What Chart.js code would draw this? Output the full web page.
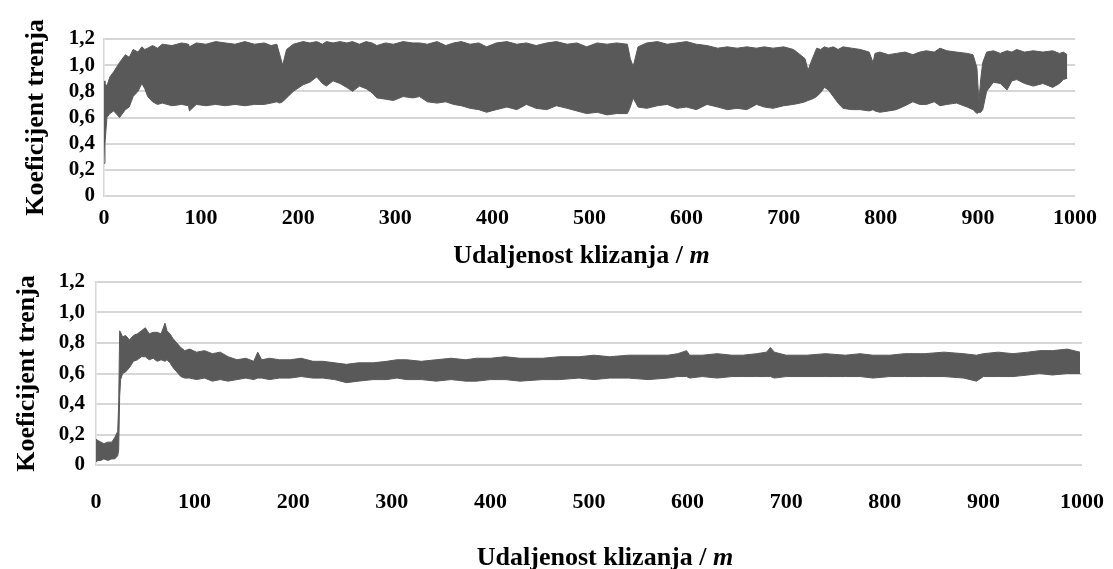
<!DOCTYPE html>
<html>
<head>
<meta charset="utf-8">
<script src="https://cdn.jsdelivr.net/npm/chart.js@4.4.1/dist/chart.umd.min.js"></script>
<style>
  body { margin: 0; background: #fff; }
  canvas { position: absolute; left: 0; }
  #topChart { top: 0; }
  #bottomChart { top: 270px; }
</style>
</head>
<body>
<canvas id="topChart" width="1113" height="270"></canvas>
<canvas id="bottomChart" width="1113" height="299"></canvas>
<script>
// tick labels
let xTicks = [0, 100, 200, 300, 400, 500, 600, 700, 800, 900, 1000];
let yTicks = [0, 0.2, 0.4, 0.6, 0.8, 1.0, 1.2];
let yTickLabels = ['0', '0,2', '0,4', '0,6', '0,8', '1,0', '1,2'];

// top chart: envelope of the friction signal (distance in m)
let topDist = [0, 1, 3, 6, 10, 16, 22, 26, 30, 35, 39, 42, 45, 50, 55, 60, 70, 80, 87, 88, 95, 105, 115, 125, 135, 145, 155, 165, 172, 178,
  181, 184, 188, 195, 205, 212, 219, 225, 229, 236, 243, 250, 256, 263, 270, 276, 281, 290, 298, 308, 318, 325, 333, 343, 352, 360, 368, 377, 386, 394,
  404, 415, 425, 435, 445, 456, 466, 477, 487, 497, 508, 518, 528, 539, 542, 545, 550, 559, 570, 580, 590, 600, 610, 621, 632, 642, 652, 662, 672, 680,
  689, 700, 710, 717, 722, 725, 729, 734, 738, 742, 746, 751, 756, 761, 770, 779, 788, 792, 794, 799, 808, 816, 825, 833, 840, 847, 855, 861, 868, 878,
  889, 895, 899, 901, 903, 905, 909, 916, 923, 930, 935, 940, 948, 957, 967, 977, 984, 988, 992];
let topUpper = [0.88, 0.86, 0.84, 0.91, 0.95, 1.02, 1.08, 1.06, 1.12, 1.10, 1.14, 1.12, 1.13, 1.15, 1.13, 1.16, 1.15, 1.17, 1.16, 1.14, 1.17, 1.16, 1.18, 1.17, 1.16, 1.18, 1.16, 1.17, 1.15, 1.16,
  1.08, 1.00, 1.12, 1.16, 1.18, 1.17, 1.18, 1.16, 1.18, 1.17, 1.18, 1.17, 1.18, 1.16, 1.18, 1.17, 1.15, 1.17, 1.16, 1.18, 1.17, 1.17, 1.16, 1.18, 1.15, 1.17, 1.18, 1.16, 1.17, 1.14,
  1.17, 1.18, 1.16, 1.17, 1.15, 1.17, 1.18, 1.16, 1.17, 1.14, 1.17, 1.16, 1.17, 1.16, 1.05, 0.99, 1.14, 1.17, 1.18, 1.16, 1.17, 1.18, 1.16, 1.15, 1.13, 1.14, 1.13, 1.14, 1.13, 1.14,
  1.13, 1.14, 1.12, 1.08, 1.05, 0.96, 1.04, 1.13, 1.12, 1.14, 1.13, 1.14, 1.12, 1.14, 1.13, 1.12, 1.10, 1.02, 1.09, 1.10, 1.08, 1.09, 1.10, 1.08, 1.10, 1.11, 1.10, 1.13, 1.11, 1.10,
  1.09, 1.08, 0.98, 0.72, 0.90, 1.02, 1.10, 1.11, 1.09, 1.11, 1.10, 1.12, 1.10, 1.11, 1.10, 1.11, 1.09, 1.10, 1.08];
let topLower = [0.25, 0.40, 0.60, 0.63, 0.65, 0.60, 0.66, 0.68, 0.76, 0.80, 0.86, 0.82, 0.76, 0.72, 0.70, 0.71, 0.69, 0.70, 0.69, 0.65, 0.70, 0.69, 0.70, 0.69, 0.70, 0.69, 0.70, 0.70, 0.71, 0.72,
  0.71, 0.72, 0.75, 0.80, 0.85, 0.87, 0.91, 0.86, 0.84, 0.88, 0.86, 0.83, 0.80, 0.84, 0.82, 0.79, 0.75, 0.74, 0.73, 0.76, 0.75, 0.76, 0.72, 0.71, 0.72, 0.70, 0.69, 0.67, 0.66, 0.64,
  0.66, 0.68, 0.66, 0.70, 0.67, 0.66, 0.69, 0.67, 0.65, 0.63, 0.64, 0.62, 0.63, 0.63, 0.68, 0.75, 0.68, 0.67, 0.69, 0.70, 0.67, 0.68, 0.66, 0.70, 0.68, 0.66, 0.67, 0.66, 0.70, 0.68,
  0.67, 0.69, 0.70, 0.71, 0.72, 0.73, 0.74, 0.76, 0.79, 0.83, 0.81, 0.76, 0.71, 0.67, 0.66, 0.66, 0.65, 0.66, 0.65, 0.64, 0.65, 0.66, 0.69, 0.72, 0.70, 0.70, 0.72, 0.69, 0.70, 0.71,
  0.68, 0.66, 0.63, 0.64, 0.64, 0.66, 0.80, 0.87, 0.86, 0.81, 0.88, 0.89, 0.86, 0.84, 0.86, 0.83, 0.86, 0.89, 0.90];

// bottom chart
let botDist = [0, 2, 5, 8, 12, 16, 19, 22, 23, 24, 25, 27, 30, 34, 38, 42, 46, 50, 54, 58, 62, 66, 70, 72, 75, 78, 82, 86, 90, 95,
  102, 110, 118, 126, 134, 143, 152, 160, 164, 168, 176, 186, 197, 208, 220, 230, 242, 254, 266, 281, 295, 305, 315, 330, 345, 360, 375, 386, 400, 415,
  430, 453, 470, 490, 505, 521, 540, 560, 580, 590, 599, 602, 615, 630, 645, 656, 670, 680, 684, 688, 700, 721, 740, 760, 775, 788, 805, 820, 840, 860,
  880, 893, 900, 915, 930, 945, 957, 970, 985, 998];
let botUpper = [0.17, 0.16, 0.15, 0.14, 0.15, 0.15, 0.18, 0.22, 0.40, 0.88, 0.87, 0.84, 0.85, 0.82, 0.85, 0.86, 0.88, 0.90, 0.86, 0.87, 0.87, 0.86, 0.93, 0.88, 0.86, 0.83, 0.80, 0.77, 0.75, 0.76,
  0.74, 0.75, 0.73, 0.74, 0.71, 0.69, 0.70, 0.68, 0.74, 0.69, 0.70, 0.69, 0.69, 0.70, 0.68, 0.68, 0.67, 0.66, 0.67, 0.67, 0.68, 0.69, 0.69, 0.68, 0.69, 0.70, 0.69, 0.70, 0.70, 0.71,
  0.70, 0.70, 0.71, 0.71, 0.72, 0.71, 0.72, 0.72, 0.72, 0.73, 0.75, 0.72, 0.72, 0.73, 0.72, 0.72, 0.73, 0.74, 0.77, 0.74, 0.72, 0.72, 0.73, 0.72, 0.73, 0.72, 0.72, 0.73, 0.73, 0.74,
  0.73, 0.72, 0.73, 0.74, 0.73, 0.74, 0.75, 0.75, 0.76, 0.74];
let botLower = [0.02, 0.03, 0.03, 0.04, 0.03, 0.04, 0.04, 0.06, 0.10, 0.45, 0.56, 0.60, 0.61, 0.64, 0.68, 0.69, 0.71, 0.71, 0.69, 0.70, 0.68, 0.69, 0.68, 0.69, 0.67, 0.64, 0.61, 0.58, 0.57, 0.57,
  0.56, 0.57, 0.55, 0.56, 0.55, 0.56, 0.57, 0.56, 0.57, 0.57, 0.56, 0.57, 0.57, 0.58, 0.57, 0.57, 0.56, 0.54, 0.55, 0.56, 0.56, 0.57, 0.56, 0.56, 0.55, 0.56, 0.55, 0.55, 0.56, 0.56,
  0.55, 0.56, 0.56, 0.57, 0.56, 0.57, 0.57, 0.56, 0.57, 0.58, 0.58, 0.57, 0.58, 0.57, 0.58, 0.58, 0.58, 0.58, 0.58, 0.57, 0.58, 0.58, 0.58, 0.58, 0.58, 0.57, 0.58, 0.58, 0.58, 0.58,
  0.57, 0.55, 0.58, 0.58, 0.58, 0.59, 0.60, 0.59, 0.60, 0.60];

const yTitle = 'Koeficijent trenja';
const xTitleMain = 'Udaljenost klizanja / ';
const xTitleUnit = 'm';

const dark = '#595959';
const gridGray = '#d6d6d6';
const serif = '"Liberation Serif", "Times New Roman", serif';

// draws the x title with the unit in italics
const xTitlePlugin = {
  id: 'xTitle',
  afterDraw(chart, args, opts) {
    const ctx = chart.ctx;
    const a = chart.chartArea;
    ctx.save();
    ctx.fillStyle = '#000';
    ctx.textBaseline = 'middle';
    ctx.font = 'bold 26px ' + serif;
    const w1 = ctx.measureText(xTitleMain).width;
    ctx.font = 'italic bold 26px ' + serif;
    const w2 = ctx.measureText(xTitleUnit).width;
    let x = (a.left + a.right) / 2 + opts.shift - (w1 + w2) / 2;
    ctx.font = 'bold 26px ' + serif;
    ctx.textAlign = 'left';
    ctx.fillText(xTitleMain, x, opts.y);
    ctx.font = 'italic bold 26px ' + serif;
    ctx.fillText(xTitleUnit, x + w1, opts.y);
    ctx.restore();
  }
};

function makeChart(id, dist, upper, lower, g) {
  let upperPts = dist.map((d, i) => ({ x: d, y: upper[i] }));
  let lowerPts = dist.map((d, i) => ({ x: d, y: lower[i] }));
  return new Chart(document.getElementById(id).getContext('2d'), {
    type: 'line',
    data: {
      datasets: [
        { data: lowerPts, borderColor: dark, borderWidth: 1, pointRadius: 0, fill: false },
        { data: upperPts, borderColor: dark, borderWidth: 1, pointRadius: 0, fill: '-1', backgroundColor: dark }
      ]
    },
    options: {
      responsive: false,
      animation: false,
      layout: { padding: { left: 0, right: g.rightPad, top: g.top, bottom: 0 } },
      plugins: {
        legend: { display: false },
        tooltip: { enabled: false },
        xTitle: { y: g.xTitleY, shift: g.xTitleShift }
      },
      scales: {
        x: {
          type: 'linear', min: 0, max: 1000,
          afterBuildTicks: s => { s.ticks = xTicks.map(v => ({ value: v })); },
          grid: { display: false },
          border: { display: false },
          ticks: { callback: (v, i) => String(xTicks[i]), padding: g.xTickPad, color: '#000',
                   maxRotation: 0, autoSkip: false,
                   font: { family: serif, size: 22, weight: 'bold' } },
          afterFit: s => { s.height = g.xHeight; s.paddingLeft = 0; s.paddingRight = 0; }
        },
        y: {
          min: 0, max: 1.2,
          afterBuildTicks: s => { s.ticks = yTicks.map(v => ({ value: v })); },
          ticks: { callback: (v, i) => yTickLabels[i], padding: g.yTickPad, color: '#000',
                   autoSkip: false,
                   font: { family: serif, size: 21, weight: 'bold' } },
          grid: { color: gridGray, lineWidth: 2, drawTicks: false },
          border: { display: true, color: gridGray, width: 1.5 },
          title: { display: true, text: yTitle, color: '#000', padding: { top: g.yTitlePad, bottom: 0 },
                   font: { family: serif, size: 26, weight: 'bold' } },
          afterFit: s => { s.width = g.left; s.paddingTop = 0; s.paddingBottom = 0; }
        }
      }
    },
    plugins: [xTitlePlugin]
  });
}

makeChart('topChart', topDist, topUpper, topLower,
  { left: 104, top: 39, rightPad: 38, xHeight: 74, xTickPad: 1, yTickPad: 9, yTitlePad: 21, xTitleY: 256, xTitleShift: -8 });
makeChart('bottomChart', botDist, botUpper, botLower,
  { left: 96, top: 12, rightPad: 31, xHeight: 104, xTickPad: 16, yTickPad: 11, yTitlePad: 12, xTitleY: 288, xTitleShift: 16 });
</script>
</body>
</html>
